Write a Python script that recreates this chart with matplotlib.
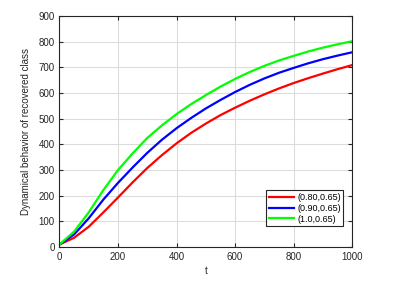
import matplotlib
matplotlib.use("Agg")
import matplotlib.pyplot as plt

plt.rcParams['font.family'] = ['Liberation Sans', 'DejaVu Sans']

t = [0, 50, 100, 150, 200, 250, 300, 350, 400, 450, 500,
     550, 600, 650, 700, 750, 800, 850, 900, 950, 1000]
r_080 = [10, 36, 79, 135, 193, 252, 308, 358, 404, 445, 481,
         514, 543, 570, 595, 618, 639, 658, 676, 693, 709]
r_090 = [10, 49, 112, 185, 250, 310, 367, 418, 463, 503, 540,
         573, 604, 632, 657, 679, 698, 716, 732, 746, 759]
r_100 = [10, 60, 135, 222, 300, 365, 425, 474, 518, 557, 592,
         625, 655, 682, 706, 727, 745, 762, 777, 790, 802]
labels = ['(0.80,0.65)', '(0.90,0.65)', '(1.0,0.65)']

fig = plt.figure(figsize=(4.1, 2.82), dpi=100)
ax = fig.add_axes([0.145, 0.124, 0.714, 0.819])

ax.plot(t, r_080, color='#ff0000', lw=1.6, label=labels[0])
ax.plot(t, r_090, color='#0000ff', lw=1.6, label=labels[1])
ax.plot(t, r_100, color='#00ff00', lw=1.6, label=labels[2])

ax.set_xlim(0, 1000)
ax.set_ylim(0, 900)
ax.set_xticks(range(0, 1001, 200))
ax.set_yticks(range(0, 901, 100))
ax.grid(True, color='#dcdcdc', lw=0.8)
ax.tick_params(direction='in', top=True, right=True, labelsize=7,
               length=3, colors='#262626')
for s in ax.spines.values():
    s.set_color('#262626')
    s.set_linewidth(0.8)

ax.set_xlabel('t', fontsize=7, color='#262626', labelpad=3)
ax.set_ylabel('Dynamical behavior of recovered class', fontsize=7,
              color='#262626', labelpad=5)

leg = ax.legend(loc='lower right', bbox_to_anchor=(0.97, 0.09), fontsize=6.5,
                fancybox=False, framealpha=1, edgecolor='#262626',
                handlelength=2.8, handletextpad=0.3, borderpad=0.3,
                labelspacing=0.2, borderaxespad=0)
leg.get_frame().set_linewidth(0.8)

fig.savefig('out.png', dpi=100)
